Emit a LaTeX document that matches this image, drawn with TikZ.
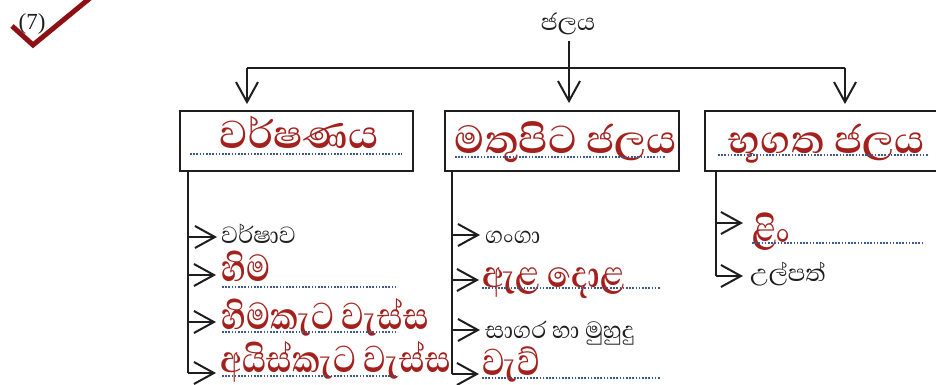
\documentclass[tikz,border=0pt]{standalone}
\usepackage{fontspec}
\usetikzlibrary{arrows.meta}
\setmainfont{Liberation Serif}
\newfontfamily\sinfont[Script=Sinhala]{Abhaya Libre}
\newcommand\tallword[1]{\scalebox{1}[1.2]{#1}}
\definecolor{ink}{HTML}{1E1E1E}
\definecolor{answer}{HTML}{A3201C}
\definecolor{dotline}{HTML}{3B5B8C}
\definecolor{tick}{HTML}{8E1014}
\tikzset{
  box/.style={draw=ink, line width=1.8pt, inner sep=0pt},
  line/.style={draw=ink, line width=1.8pt},
  flow/.style={line, -{Straight Barb[length=20pt,width=22pt,line width=2pt]}},
  lbl/.style={font=\sinfont\fontsize{30}{32}\selectfont, text=ink, inner sep=0pt, anchor=base west},
  ans/.style={font=\sinfont\bfseries\fontsize{40}{42}\selectfont, text=answer, inner sep=0pt, anchor=base west, text depth=0pt},
  title/.style={ans, font=\sinfont\bfseries\fontsize{50}{52}\selectfont, anchor=base},
  dots/.style={draw=dotline, line width=1.6pt, dash pattern=on 1.6pt off 1.6pt},
}
\begin{document}
\begin{tikzpicture}[x=1pt,y=-1pt]
\useasboundingbox (0,0) rectangle (936,385);
\clip (0,0) rectangle (936,385);

% question number with its tick
\node[font=\fontsize{23}{25}\selectfont, text=ink, inner sep=0pt] (qno) at (32,24) {(7)};
\draw[tick, line width=5pt] (12,26) -- (33,45) -- (95,-6);

% root
\node[lbl, anchor=base] (water) at (568,31) {ජලය};

% the three category boxes
\node[box, minimum width=233pt, minimum height=60pt] (b1) at (296.5,141) {};
\node[box, minimum width=234pt, minimum height=60pt] (b2) at (562,141) {};
\node[box, minimum width=236pt, minimum height=60pt] (b3) at (823,141) {};
\node[title] (t1) at (299,148) {වර්ෂණය};
\node[title] (t2) at (566,153) {මතුපිට ජලය};
\node[title] (t3) at (827,153) {භූගත ජලය};
\draw[dots] (190,154) -- (402,154);
\draw[dots] (455,157) -- (665,157);
\draw[dots] (718,155) -- (928,155);

% branching from the root
\coordinate (hub) at (569,68);
\coordinate (tl) at (247,68);
\coordinate (tr) at (845,68);
\draw[flow, shorten <=5pt, shorten >=7pt] (hub |- water.south) -- (hub |- b2.north);
\draw[line] (tl) -- (tr);
\draw[flow, shorten >=6pt] (tl) -- (tl |- b1.north);
\draw[flow, shorten >=6pt] (tr) -- (tr |- b3.north);

% column 1
\coordinate (s1) at ([xshift=9pt]b1.south west);
\coordinate (a11) at (217,237);
\coordinate (a12) at (216,275);
\coordinate (a13) at (216,322);
\coordinate (a14) at (216,373);
\draw[line] (s1) -- (s1 |- a14);
\draw[flow] (s1 |- a11) -- (a11);
\draw[flow] (s1 |- a12) -- (a12);
\draw[flow] (s1 |- a13) -- (a13);
\draw[flow] (s1 |- a14) -- (a14);
\node[lbl] (i11) at (221,243) {වර්ෂාව};
\node[ans] (i12) at (221,281) {\tallword{හිම}};
\node[ans] (i13) at (221,329) {\tallword{හිමකැට වැස්ස}};
\node[ans] (i14) at (220,372) {\tallword{අයිස්කැට වැස්ස}};
\draw[dots] (222,287) -- (398,287);
\draw[dots] (222,332) -- (398,332);
\draw[dots] (222,376) -- (398,376);

% column 2
\coordinate (s2) at ([xshift=8pt]b2.south west);
\coordinate (a21) at (480,235);
\coordinate (a22) at (479,280);
\coordinate (a23) at (480,330);
\coordinate (a24) at (479,374);
\draw[line] (s2) -- (s2 |- a24);
\draw[flow] (s2 |- a21) -- (a21);
\draw[flow] (s2 |- a22) -- (a22);
\draw[flow] (s2 |- a23) -- (a23);
\draw[flow] (s2 |- a24) -- (a24);
\node[lbl] (i21) at (485,243) {ගංගා};
\node[ans] (i22) at (482,287) {\tallword{ඇළ දොළ}};
\node[lbl] (i23) at (485,338) {සාගර හා මුහුදු};
\node[ans] (i24) at (482,375) {\tallword{වැව්}};
\draw[dots] (482,288) -- (660,288);
\draw[dots] (482,378) -- (660,378);

% column 3
\coordinate (s3) at ([xshift=12pt]b3.south west);
\coordinate (a31) at (743,223);
\coordinate (a32) at (743,276);
\draw[line] (s3) -- (s3 |- a32);
\draw[flow] (s3 |- a31) -- (a31);
\draw[flow] (s3 |- a32) -- (a32);
\node[ans] (i31) at (752,243) {\tallword{ළිං}};
\node[lbl] (i32) at (750,281) {උල්පත්};
\draw[dots] (752,243) -- (924,243);
\end{tikzpicture}
\end{document}
